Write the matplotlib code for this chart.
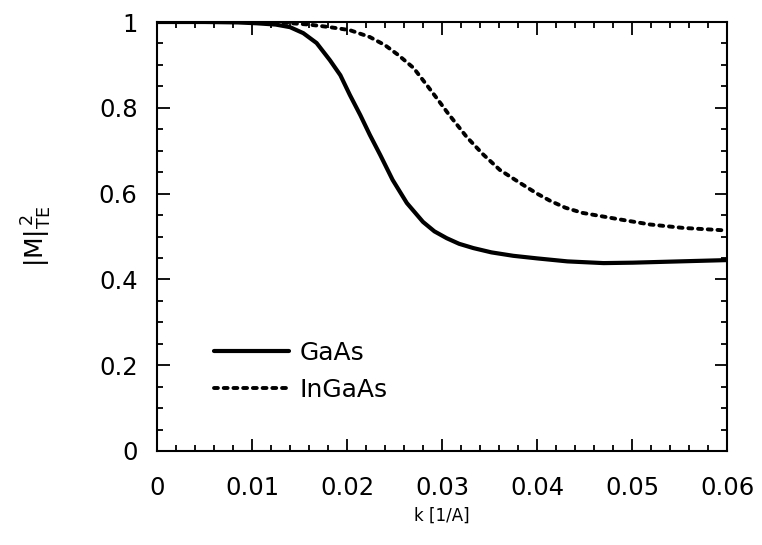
import matplotlib
matplotlib.use('Agg')
import matplotlib.pyplot as plt
from matplotlib.ticker import MultipleLocator

# values
k_gaas = [0.0, 0.005, 0.0085, 0.0105, 0.0125, 0.0140, 0.0154, 0.0168, 0.0182,
          0.0193, 0.0203, 0.0214, 0.0224, 0.0235, 0.0248, 0.0263, 0.0280,
          0.0292, 0.0305, 0.0318, 0.0333, 0.0352, 0.0375, 0.0400, 0.0432,
          0.0470, 0.0501, 0.0550, 0.0600]
m_gaas = [1.0, 1.0, 0.999, 0.997, 0.994, 0.988, 0.974, 0.951, 0.911,
          0.876, 0.830, 0.783, 0.737, 0.690, 0.632, 0.578, 0.534,
          0.512, 0.496, 0.483, 0.473, 0.463, 0.455, 0.449, 0.442,
          0.438, 0.439, 0.442, 0.445]

k_ingaas = [0.0, 0.005, 0.010, 0.0130, 0.0160, 0.0182, 0.0203, 0.0224, 0.0240,
            0.0254, 0.0270, 0.0284, 0.0296, 0.0306, 0.0316, 0.0326, 0.0343,
            0.0361, 0.0382, 0.0400, 0.0414, 0.0430, 0.0448, 0.0466, 0.0484,
            0.0519, 0.0554, 0.0600]
m_ingaas = [1.0, 1.0, 1.0, 0.999, 0.994, 0.988, 0.981, 0.965, 0.946,
            0.923, 0.893, 0.853, 0.818, 0.788, 0.760, 0.732, 0.692,
            0.655, 0.625, 0.600, 0.583, 0.567, 0.555, 0.548, 0.541,
            0.528, 0.520, 0.514]

x_ticks = [0, 0.01, 0.02, 0.03, 0.04, 0.05, 0.06]
x_labels = ['0', '0.01', '0.02', '0.03', '0.04', '0.05', '0.06']
y_ticks = [0, 0.2, 0.4, 0.6, 0.8, 1]
y_labels = ['0', '0.2', '0.4', '0.6', '0.8', '1']

plt.rcParams['font.family'] = ['DejaVu Sans']
plt.rcParams['mathtext.fontset'] = 'dejavusans'

fig = plt.figure(figsize=(7.62, 5.45), dpi=100)
ax = fig.add_axes([157/762, 1 - 451/545, 570/762, 429/545])

ax.plot(k_gaas, m_gaas, color='black', lw=3.0, solid_capstyle='round',
        solid_joinstyle='round', label='GaAs')
ax.plot(k_ingaas, m_ingaas, color='black', lw=2.8, linestyle=(0, (1, 1.5)),
        dash_capstyle='round', label='InGaAs')

ax.set_xlim(0, 0.06)
ax.set_ylim(0, 1)
ax.set_xticks(x_ticks)
ax.set_xticklabels(x_labels)
ax.set_yticks(y_ticks)
ax.set_yticklabels(y_labels)
ax.xaxis.set_minor_locator(MultipleLocator(0.002))
ax.yaxis.set_minor_locator(MultipleLocator(0.05))
ax.tick_params(which='both', direction='in', top=True, right=True, width=1.3)
ax.tick_params(which='major', length=9, labelsize=17.5)
ax.tick_params(axis='x', which='major', pad=18)
ax.tick_params(axis='y', which='major', pad=14)
ax.tick_params(which='minor', length=4.5)
for s in ax.spines.values():
    s.set_linewidth(1.5)

ax.set_xlabel('k [1/A]', fontsize=12, labelpad=5)
ax.set_ylabel(r'$|\mathrm{M}|^{\,2}_{\mathrm{TE}}$', fontsize=18, labelpad=32)

leg = ax.legend(loc='lower left', bbox_to_anchor=(0.061, 0.062), frameon=False,
                fontsize=18, handlelength=3.0, handletextpad=0.4,
                labelspacing=0.52)

fig.savefig('out.png', dpi=100)
